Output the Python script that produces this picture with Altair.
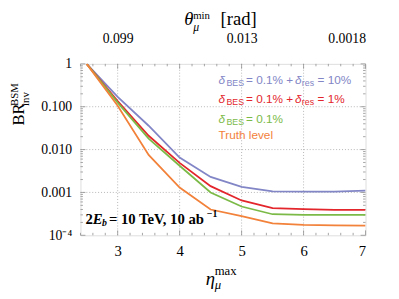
import altair as alt
import pandas as pd

# ---- data ----
eta = [2.5, 3.0, 3.5, 4.0, 4.5, 5.0, 5.5, 6.0, 6.5, 7.0]
br_res10 = [1.0, 0.17, 0.036, 0.0065, 0.0023, 0.00135, 0.00106, 0.00105, 0.00105, 0.0011]
br_res1 = [1.0, 0.135, 0.021, 0.0049, 0.0014, 0.00065, 0.00043, 0.00041, 0.00039, 0.00039]
br_bes = [1.0, 0.125, 0.018, 0.0042, 0.0010, 0.00047, 0.00031, 0.00030, 0.00030, 0.00030]
br_truth = [1.0, 0.105, 0.0075, 0.0013, 0.0004, 0.00028, 0.00019, 0.000175, 0.00017, 0.000168]

series_names = ["res10", "res1", "bes", "truth"]
series_colors = ["#8286c6", "#e3262c", "#7cba48", "#f2813a"]

x_ticks = [3, 4, 5, 6, 7]
y_ticks = [1, 0.1, 0.01, 0.001, 0.0001]
y_tick_labels = ["1", "0.100", "0.010", "0.001", "10⁻⁴"]
top_tick_eta = [3, 5, 7]
top_tick_labels = ["0.099", "0.013", "0.0018"]
x_grid = [3, 4, 5, 6]
y_grid = [0.1, 0.01, 0.001]

W, H = 291, 175
SERIF = "Liberation Serif"
SANS = "Liberation Sans"
FRAME = "#8e8e8e"

rows = []
for name, vals in zip(series_names, [br_res10, br_res1, br_bes, br_truth]):
    for e, v in zip(eta, vals):
        rows.append({"eta": e, "br": v, "s": name})
df = pd.DataFrame(rows)

xscale = alt.Scale(domain=[2.4, 7], nice=False, zero=False)
yscale = alt.Scale(type="log", domain=[1e-4, 1], nice=False)

y_expr = " : ".join(
    f"datum.value > {v*0.99} && datum.value < {v*1.01} ? '{l}'" for v, l in zip(y_ticks, y_tick_labels)
) + " : ''"
top_expr = " : ".join(
    f"datum.value == {v} ? '{l}'" for v, l in zip(top_tick_eta, top_tick_labels)
) + " : ''"

y_axis = alt.Axis(values=y_ticks, labelExpr=y_expr, grid=False, ticks=False, domain=False,
                  labelFont=SERIF, labelFontSize=14, labelColor="#000", labelPadding=9, title=None)

def Y(field):
    return alt.Y(field, scale=yscale, axis=y_axis, title=None)

# gridlines
gx = alt.Chart(pd.DataFrame({"g": x_grid})).mark_rule(
    color="#b5b5b5", strokeDash=[1, 2], strokeWidth=1
).encode(x=alt.X("g:Q", scale=xscale, axis=None), y=alt.value(0), y2=alt.value(H))
gy = alt.Chart(pd.DataFrame({"g": y_grid})).mark_rule(
    color="#b5b5b5", strokeDash=[1, 2], strokeWidth=1
).encode(y=Y("g:Q"), x=alt.value(0), x2=alt.value(W))

lines = alt.Chart(df).mark_line(strokeWidth=1.8, clip=True).encode(
    x=alt.X("eta:Q", scale=xscale, title=None,
            axis=alt.Axis(values=x_ticks, format="d", grid=False, ticks=False, domain=False,
                          labelFont=SERIF, labelFontSize=15, labelColor="#000", labelPadding=9)),
    y=Y("br:Q"),
    color=alt.Color("s:N", scale=alt.Scale(domain=series_names, range=series_colors), legend=None),
    order=alt.Order("eta:Q"),
)

top_axis = alt.Chart(pd.DataFrame({"t": top_tick_eta})).mark_point(opacity=0).encode(
    x=alt.X("t:Q", scale=xscale, title=None,
            axis=alt.Axis(orient="top", values=top_tick_eta, labelExpr=top_expr, grid=False,
                          ticks=False, domain=False, labelFont=SERIF, labelFontSize=14,
                          labelColor="#000", labelPadding=19)),
)

# inward frame ticks (positions through the scales)
x_major = x_ticks
x_minor = [round(2.4 + 0.2 * i, 1) for i in range(24) if round(2.4 + 0.2 * i, 1) not in x_ticks]
y_minor = [k * 10.0 ** d for d in range(-4, 0) for k in range(2, 10)]

def xt(vals, y0, y1):
    return alt.Chart(pd.DataFrame({"v": vals})).mark_rule(color=FRAME, strokeWidth=0.8).encode(
        x=alt.X("v:Q", scale=xscale, axis=None), y=alt.value(y0), y2=alt.value(y1))

def yt(vals, x0, x1):
    return alt.Chart(pd.DataFrame({"v": vals})).mark_rule(color=FRAME, strokeWidth=0.8).encode(
        y=Y("v:Q"), x=alt.value(x0), x2=alt.value(x1))

ticks = [
    xt(x_major, H, H - 5), xt(x_minor, H, H - 2.5),
    xt(x_major, 0, 5), xt(x_minor, 0, 2.5),
    yt(y_ticks, 0, 5), yt(y_minor, 0, 2.5),
    yt(y_ticks, W, W - 5), yt(y_minor, W, W - 2.5),
]

def txt(text, x, y, size, color="#000", font=SERIF, style="normal", weight="normal", angle=0, align="left"):
    return alt.Chart(alt.Data(values=[{}])).mark_text(
        text=text, align=align, baseline="alphabetic", fontSize=size, font=font,
        fontStyle=style, fontWeight=weight, color=color, angle=angle,
    ).encode(x=alt.value(x), y=alt.value(y))

c0, c1, c2, c3 = series_colors
legend_txt = [
    txt("δ", 141, 21, 12, c0, SANS, "italic"), txt("BES", 149, 23, 9, c0, SANS),
    txt("= 0.1% +", 169, 21, 12, c0, SANS),
    txt("δ", 219, 21, 12, c0, SANS, "italic"), txt("res", 226, 23, 9, c0, SANS),
    txt("= 10%", 242, 21, 12, c0, SANS),
    txt("δ", 141, 40, 12, c1, SANS, "italic"), txt("BES", 149, 42, 9, c1, SANS),
    txt("= 0.1% +", 169, 40, 12, c1, SANS),
    txt("δ", 219, 40, 12, c1, SANS, "italic"), txt("res", 226, 42, 9, c1, SANS),
    txt("= 1%", 242, 40, 12, c1, SANS),
    txt("δ", 141, 60, 12, c2, SANS, "italic"), txt("BES", 149, 62, 9, c2, SANS),
    txt("= 0.1%", 169, 60, 12, c2, SANS),
    txt("Truth level", 141, 77, 12, c3, SANS),
]

info_txt = [
    txt("2", 5, 163, 15, weight="bold"),
    txt("E", 12.5, 163, 15, style="italic", weight="bold"),
    txt("b", 22, 166, 10, style="italic", weight="bold"),
    txt("= 10 TeV, 10 ab", 29, 163, 15, weight="bold"),
    txt("−1", 129, 156, 10, weight="bold"),
]

titles = [
    # bottom: eta_mu^max
    txt("η", 128, 226, 19, style="italic"),
    txt("max", 137, 216, 13),
    txt("μ", 137, 230, 13, style="italic"),
    # top: theta_mu^min [rad]
    txt("θ", 106, -40, 19, style="italic"),
    txt("min", 115, -46, 11),
    txt("μ", 115, -34, 12, style="italic"),
    txt("[rad]", 143, -40, 19),
    # left: BR_inv^BSM (rotated)
    txt("BR", -58, 63, 17, angle=270),
    txt("BSM", -64, 43, 11, angle=270),
    txt("inv", -53, 43, 11, angle=270),
]

chart = alt.layer(
    gx, gy, *ticks, lines, top_axis, *legend_txt, *info_txt, *titles
).resolve_axis(x="independent").properties(
    width=W, height=H,
    autosize=alt.AutoSizeParams(type="none"),
    padding={"left": 74, "top": 54, "right": 26, "bottom": 62},
).configure_view(stroke=FRAME, strokeWidth=1.2).configure(background="white")

chart.save("out.html", embed_options={"renderer": "svg", "actions": False})
